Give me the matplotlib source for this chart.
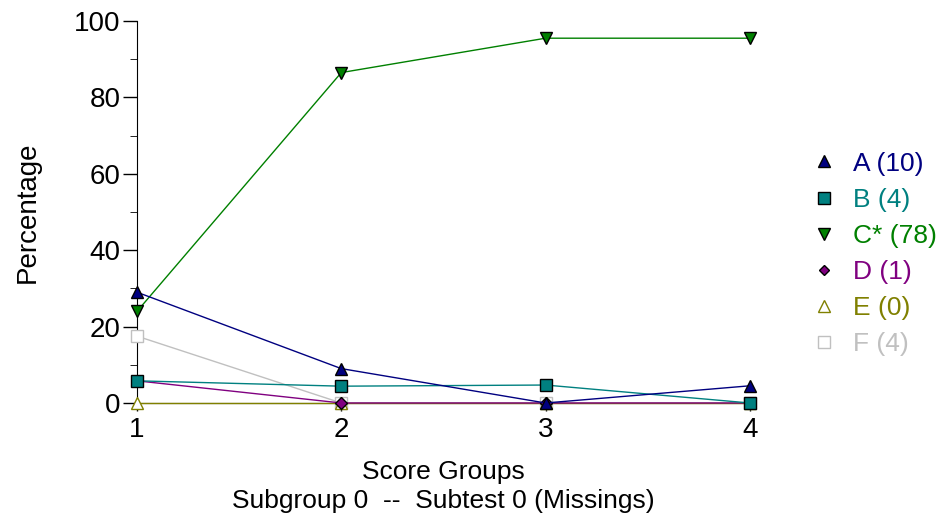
import matplotlib.pyplot as plt
from matplotlib.lines import Line2D
from matplotlib.ticker import MultipleLocator

plt.rcParams['font.family'] = ['Liberation Sans', 'DejaVu Sans']

# score groups and percentage per option
groups = [1, 2, 3, 4]
labels = ["A (10)", "B (4)", "C* (78)", "D (1)", "E (0)", "F (4)"]
A = [29, 9, 0, 4.5]
B = [5.8, 4.4, 4.7, 0]
C = [24, 86.5, 95.5, 95.5]
D = [5.8, 0, 0, 0]
E = [0, 0, 0, 0]
F = [17.5, 0, 0, 0]

series = [A, B, C, D, E, F]
colors = ["#000080", "#008080", "#008000", "#800080", "#808000", "#c0c0c0"]
markers = ["^", "s", "v", "D", "^", "s"]
sizes = [9, 9, 9, 6, 9, 9]
filled = [True, True, True, True, False, False]

fig = plt.figure(figsize=(9.53, 5.15), dpi=100)
ax = fig.add_axes([0.1438, 0.2175, 0.643, 0.7417])

handles = []
for i, (vals, col, mk, ms, fl, lab) in enumerate(zip(series, colors, markers, sizes, filled, labels)):
    face = col if fl else "white"
    edge = "black" if fl else col
    ax.plot(groups, vals, color=col, lw=1, marker=mk, ms=ms,
            markerfacecolor=face, markeredgecolor=edge, mew=1,
            clip_on=False, zorder=10 - i)
    handles.append(Line2D([], [], ls="none", marker=mk, ms=ms - 1,
                          markerfacecolor=face, markeredgecolor=edge, label=lab))

ax.set_xlim(1, 4)
ax.set_ylim(0, 100)
ax.set_xticks(groups)
ax.yaxis.set_major_locator(MultipleLocator(20))
ax.yaxis.set_minor_locator(MultipleLocator(10))
ax.tick_params(axis="both", labelsize=20, width=1, color="black")
ax.tick_params(axis="y", which="major", length=10, pad=2)
ax.tick_params(axis="y", which="minor", length=5)
ax.tick_params(axis="x", length=6, pad=4)
for s in ["top", "right"]:
    ax.spines[s].set_visible(False)

ax.set_ylabel("Percentage", fontsize=20, labelpad=24)
ax.set_xlabel("Score Groups\nSubgroup 0  --  Subtest 0 (Missings)", fontsize=19,
              labelpad=12, linespacing=1.3)

leg = ax.legend(handles=handles, loc="center left", bbox_to_anchor=(1.06, 0.39),
                frameon=False, fontsize=19, handlelength=1.0, handletextpad=0.6,
                labelspacing=0.46, labelcolor=colors)

fig.savefig("out.png", dpi=100)
